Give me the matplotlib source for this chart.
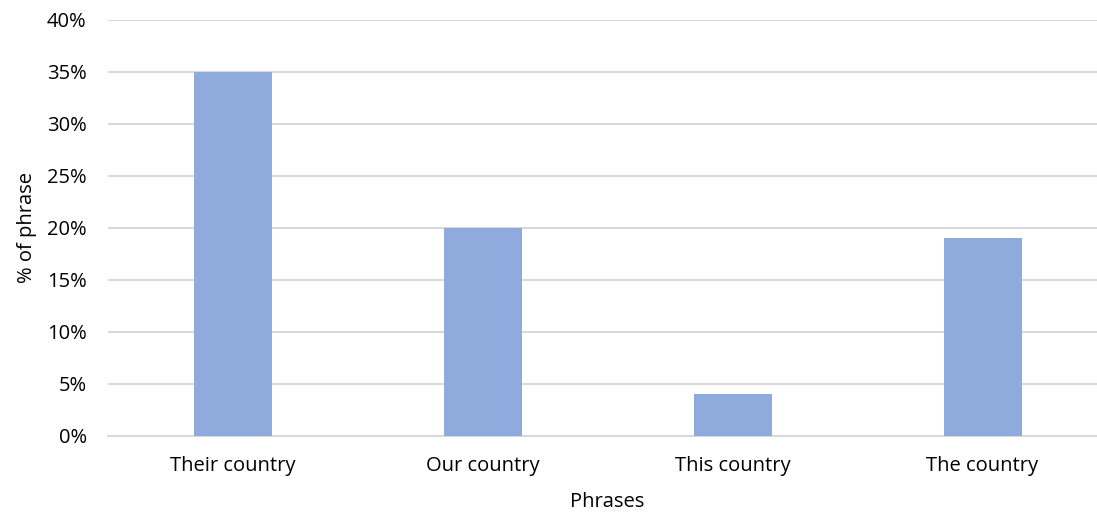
import matplotlib
matplotlib.use("Agg")
import matplotlib.pyplot as plt
from matplotlib.ticker import PercentFormatter

categories = ["Their country", "Our country", "This country", "The country"]
values = [35, 20, 4, 19]
yticks = [0, 5, 10, 15, 20, 25, 30, 35, 40]

plt.rcParams['font.family'] = ['Open Sans', 'DejaVu Sans']

W, H = 1097, 513
fig = plt.figure(figsize=(W / 100, H / 100), dpi=100)
left, right = 107.5, 1107.5
bottom, top = 435.5, 20
ax = fig.add_axes([left / W, 1 - bottom / H, (right - left) / W, (bottom - top) / H])

x = range(len(categories))
ax.bar(x, values, width=0.312, color="#8FAADC", zorder=3)
ax.set_xlim(-0.5, len(categories) - 0.5)
ax.set_ylim(0, 40)
ax.set_yticks(yticks)
ax.yaxis.set_major_formatter(PercentFormatter(decimals=0))
ax.set_xticks(list(x))
ax.set_xticklabels(categories)
ax.grid(axis="y", color="#D9D9D9", linewidth=1.5, zorder=0)
for s in ["top", "right", "left"]:
    ax.spines[s].set_visible(False)
ax.spines["bottom"].set_color("#D9D9D9")
ax.spines["bottom"].set_linewidth(1.5)
fs = 14.5
ax.tick_params(axis="both", length=0, labelsize=fs, colors="#000000")
ax.tick_params(axis="y", pad=15)
ax.tick_params(axis="x", pad=15)
ax.set_xlabel("Phrases", fontsize=fs, labelpad=11)
ax.set_ylabel("% of phrase", fontsize=fs, labelpad=7)

fig.savefig("out.png", dpi=100)
